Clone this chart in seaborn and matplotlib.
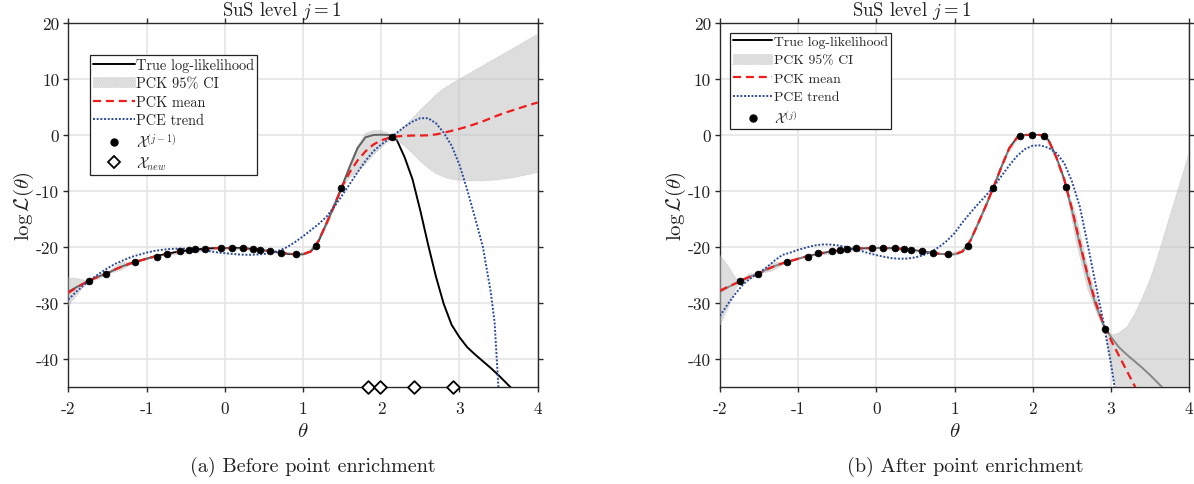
import numpy as np
import pandas as pd
import matplotlib
matplotlib.use("Agg")
import matplotlib.pyplot as plt
import seaborn as sns
from matplotlib.lines import Line2D
from matplotlib.patches import Patch

# ---------------- data ----------------
theta_grid = [-2.0, -1.9, -1.8, -1.7, -1.6, -1.5, -1.4, -1.3, -1.2, -1.1,
              -1.0, -0.9, -0.8, -0.7, -0.6, -0.5, -0.4, -0.3, -0.2, -0.1,
              0.0, 0.1, 0.2, 0.3, 0.4, 0.5, 0.6, 0.7, 0.8, 0.9,
              1.0, 1.1, 1.2, 1.3, 1.4, 1.5, 1.6, 1.7, 1.8, 1.9,
              2.0, 2.1, 2.2, 2.3, 2.4, 2.5, 2.6, 2.7, 2.8, 2.9,
              3.0, 3.1, 3.2, 3.3, 3.4, 3.5, 3.6, 3.7, 3.8, 3.9, 4.0]

true_loglik = [-28.0, -27.2, -26.5, -25.8, -25.2, -24.7, -24.0, -23.4, -22.9, -22.5,
               -22.1, -21.7, -21.4, -21.1, -20.85, -20.65, -20.5, -20.35, -20.25, -20.2,
               -20.2, -20.2, -20.2, -20.3, -20.45, -20.6, -20.8, -21.0, -21.2, -21.3,
               -21.3, -20.8, -18.9, -15.8, -12.6, -9.2, -5.6, -2.3, -0.4, 0.0,
               0.05, 0.0, -0.9, -4.0, -7.9, -13.5, -19.6, -25.3, -30.2, -33.9,
               -36.1, -37.9, -39.2, -40.4, -41.6, -42.9, -44.3, -45.7, -47.0, -48.3, -49.6]

pck_mean_a = [-28.2, -27.3, -26.5, -25.8, -25.2, -24.7, -24.0, -23.4, -22.9, -22.5,
              -22.1, -21.7, -21.4, -21.1, -20.85, -20.65, -20.5, -20.35, -20.25, -20.2,
              -20.2, -20.2, -20.2, -20.3, -20.45, -20.6, -20.8, -21.0, -21.2, -21.3,
              -21.3, -20.8, -18.9, -15.8, -12.6, -9.2, -6.6, -4.5, -2.9, -1.7,
              -0.95, -0.5, -0.25, -0.15, -0.1, -0.1, -0.05, 0.1, 0.4, 0.75,
              1.1, 1.5, 1.95, 2.45, 3.0, 3.55, 4.05, 4.5, 4.95, 5.4, 5.8]

pck_mean_b = [-27.8, -27.1, -26.5, -25.8, -25.2, -24.7, -24.0, -23.4, -22.9, -22.5,
              -22.1, -21.7, -21.4, -21.1, -20.85, -20.65, -20.5, -20.35, -20.25, -20.2,
              -20.2, -20.2, -20.2, -20.3, -20.45, -20.6, -20.8, -21.0, -21.2, -21.3,
              -21.3, -20.8, -18.9, -15.8, -12.6, -9.2, -5.6, -2.3, -0.4, 0.0,
              0.05, 0.0, -0.9, -4.0, -7.9, -13.2, -19.2, -25.0, -29.8, -33.7,
              -36.7, -39.4, -42.1, -44.8, -47.5, -50.2, -52.9, -55.6, -58.3, -61.0, -63.7]

pce_theta_a = [-2.0, -1.9, -1.8, -1.7, -1.6, -1.5, -1.4, -1.3, -1.2, -1.1,
               -1.0, -0.9, -0.8, -0.7, -0.6, -0.5, -0.4, -0.3, -0.2, -0.1,
               0.0, 0.1, 0.2, 0.3, 0.4, 0.5, 0.6, 0.7, 0.8, 0.9,
               1.0, 1.1, 1.2, 1.3, 1.4, 1.5, 1.6, 1.7, 1.8, 1.9,
               2.0, 2.1, 2.2, 2.3, 2.4, 2.5, 2.6, 2.7, 2.8, 2.9,
               3.0, 3.1, 3.2, 3.3, 3.4, 3.45, 3.5, 3.55]
pce_trend_a = [-29.4, -28.0, -26.8, -25.7, -24.7, -23.8, -23.0, -22.4, -21.8, -21.4,
               -21.0, -20.7, -20.5, -20.35, -20.3, -20.3, -20.4, -20.55, -20.75, -20.95,
               -21.1, -21.25, -21.35, -21.4, -21.35, -21.25, -21.0, -20.6, -20.0, -19.1,
               -18.1, -17.0, -15.9, -14.6, -12.8, -10.8, -8.7, -6.6, -4.6, -2.9,
               -1.7, -0.7, 0.4, 1.5, 2.4, 3.0, 3.0, 2.1, 0.4, -1.9,
               -5.3, -9.8, -14.8, -20.0, -28.0, -33.5, -45.5, -65.0]

pce_theta_b = [-2.0, -1.9, -1.8, -1.7, -1.6, -1.5, -1.4, -1.3, -1.2, -1.1,
               -1.0, -0.9, -0.8, -0.7, -0.6, -0.5, -0.4, -0.3, -0.2, -0.1,
               0.0, 0.1, 0.2, 0.3, 0.4, 0.5, 0.6, 0.7, 0.8, 0.9,
               1.0, 1.1, 1.2, 1.3, 1.4, 1.5, 1.6, 1.7, 1.8, 1.9,
               2.0, 2.1, 2.2, 2.3, 2.4, 2.5, 2.6, 2.7, 2.8, 2.9,
               3.0, 3.1]
pce_trend_b = [-32.3, -30.2, -28.3, -26.6, -25.5, -24.6, -23.6, -22.4, -21.4, -21.0,
               -20.5, -20.1, -19.75, -19.55, -19.55, -19.7, -19.95, -20.3, -20.7, -21.1,
               -21.45, -21.75, -22.0, -22.1, -22.05, -21.85, -21.45, -20.85, -20.0, -18.9,
               -17.5, -15.6, -13.9, -12.3, -10.8, -9.2, -7.3, -5.4, -3.7, -2.5,
               -1.9, -1.85, -2.3, -3.2, -5.0, -8.3, -12.8, -19.5, -26.5, -33.3,
               -41.0, -50.0]

ci_theta_a = [-2.0, -1.9, -1.8, -1.735, -1.62, -1.518, -1.33, -1.143, -1.0, -0.87,
              0.0, 0.5, 0.916, 1.05, 1.164, 1.33, 1.491, 1.6, 1.7, 1.8,
              1.9, 2.0, 2.1, 2.143, 2.2, 2.3, 2.4, 2.5, 2.6, 2.7,
              2.8, 2.9, 3.0, 3.1, 3.2, 3.3, 3.4, 3.5, 3.6, 3.7,
              3.8, 3.9, 4.0]
ci_lower_a = [-30.5, -28.8, -27.0, -26.1, -25.8, -24.85, -24.2, -22.8, -22.3, -21.75,
              -20.35, -20.75, -21.4, -21.4, -19.9, -15.6, -9.6, -7.6, -6.6, -5.2,
              -3.6, -2.3, -1.0, -0.35, -0.9, -2.0, -3.3, -4.7, -5.9, -6.9,
              -7.5, -7.9, -8.1, -8.2, -8.2, -8.2, -8.1, -8.0, -7.8, -7.6,
              -7.3, -7.0, -6.7]
ci_upper_a = [-25.5, -25.6, -25.9, -26.0, -24.9, -24.75, -22.8, -22.6, -21.9, -21.65,
              -20.05, -20.45, -21.2, -20.8, -19.7, -14.2, -9.4, -5.0, -2.0, 0.3,
              0.8, 0.8, 0.3, -0.25, 0.4, 1.6, 3.0, 4.5, 5.8, 7.2,
              8.3, 9.2, 10.0, 10.8, 11.6, 12.4, 13.2, 14.0, 14.8, 15.6,
              16.4, 17.2, 18.0]

ci_theta_b = [-2.0, -1.9, -1.8, -1.74, -1.63, -1.518, -1.33, -1.147, -1.0, -0.875,
              0.0, 0.916, 1.05, 1.167, 1.33, 1.491, 1.66, 1.832, 1.99, 2.147,
              2.29, 2.425, 2.55, 2.7, 2.85, 2.923, 2.97, 3.02, 3.06, 3.1,
              3.2, 3.3, 3.4, 3.5, 3.6, 3.7, 3.8, 3.9, 4.0]
ci_lower_b = [-34.0, -31.0, -27.5, -26.15, -25.9, -24.85, -24.3, -22.8, -22.3, -21.75,
              -20.3, -21.4, -21.4, -19.9, -15.3, -9.5, -3.8, -0.25, 0.0, -0.25,
              -4.2, -9.3, -18.8, -27.5, -33.0, -34.65, -38.5, -42.5, -45.0, -48.0,
              -55.0, -57.0, -58.0, -59.0, -60.0, -60.0, -60.0, -60.0, -60.0]
ci_upper_b = [-21.5, -23.3, -25.5, -26.05, -24.8, -24.75, -22.8, -22.6, -21.9, -21.65,
              -20.1, -21.2, -20.8, -19.7, -14.5, -9.3, -3.2, -0.15, 0.1, -0.15,
              -3.4, -9.1, -14.2, -23.5, -30.8, -34.55, -35.5, -35.6, -35.6, -35.3,
              -34.3, -32.0, -29.0, -25.7, -21.5, -16.8, -12.2, -7.7, -3.0]

points_theta_a = [-1.735, -1.518, -1.143, -0.870, -0.738, -0.568, -0.460, -0.376, -0.248, -0.047,
                  0.093, 0.238, 0.358, 0.447, 0.583, 0.724, 0.916, 1.164, 1.491, 2.143]
points_y_a = [-26.1, -24.8, -22.7, -21.7, -21.2, -20.8, -20.6, -20.4, -20.3, -20.2,
              -20.2, -20.2, -20.4, -20.5, -20.8, -21.1, -21.3, -19.8, -9.5, -0.3]

new_theta = [1.833, 1.986, 2.425, 2.919]
new_y = [-45, -45, -45, -45]

points_theta_b = [-1.74, -1.518, -1.147, -0.875, -0.743, -0.572, -0.465, -0.380, -0.257, -0.052,
                  0.088, 0.238, 0.357, 0.447, 0.583, 0.724, 0.916, 1.167, 1.491, 1.832,
                  1.990, 2.147, 2.425, 2.923]
points_y_b = [-26.1, -24.8, -22.7, -21.7, -21.1, -20.8, -20.5, -20.4, -20.2, -20.1,
              -20.1, -20.2, -20.4, -20.5, -20.8, -21.1, -21.3, -19.8, -9.4, -0.2,
              0.05, -0.2, -9.2, -34.6]

x_ticks = [-2, -1, 0, 1, 2, 3, 4]
x_tick_labels = ["-2", "-1", "0", "1", "2", "3", "4"]
y_ticks = [-40, -30, -20, -10, 0, 10, 20]
y_tick_labels = ["-40", "-30", "-20", "-10", "0", "10", "20"]

titles = [r"SuS level $j = 1$", r"SuS level $j = 1$"]
captions = ["(a) Before point enrichment", "(b) After point enrichment"]
legend_labels_a = ["True log-likelihood", "PCK 95% CI", "PCK mean", "PCE trend",
                   r"$\mathcal{X}^{(j-1)}$", r"$\mathcal{X}_{new}$"]
legend_labels_b = ["True log-likelihood", "PCK 95% CI", "PCK mean", "PCE trend",
                   r"$\mathcal{X}^{(j)}$"]

# ---------------- styling ----------------
sns.set_theme(style="whitegrid")
plt.rcParams.update({
    "font.family": "serif",
    "font.serif": ["cmr10", "DejaVu Serif"],
    "mathtext.fontset": "cm",
    "axes.unicode_minus": False,
    "axes.formatter.use_mathtext": True,
})

C_TRUE = "black"
C_FILL = "#bfbfbf"
FILL_ALPHA = 0.52
C_RED = "#ee1c1c"
C_BLUE = "#2b4a9a"
DASH = (0, (3.6, 2.2))
DOT = (0, (1.0, 0.9))
TXT = "#222222"

fig = plt.figure(figsize=(11.94, 4.85), dpi=100)
ax_a = fig.add_axes([0.0572, 0.2, 0.3931, 0.7505])
ax_b = fig.add_axes([0.603, 0.2, 0.3931, 0.7505])


def style_axes(ax, title, title_x):
    ax.set_xlim(-2, 4)
    ax.set_ylim(-45, 20)
    ax.set_xticks(x_ticks)
    ax.set_xticklabels(x_tick_labels)
    ax.set_yticks(y_ticks)
    ax.set_yticklabels(y_tick_labels)
    ax.grid(True, color="#e3e3e3", lw=1.1)
    ax.set_axisbelow(True)
    for s in ax.spines.values():
        s.set_visible(True)
        s.set_color("#2a2a2a")
        s.set_linewidth(1.0)
    ax.tick_params(direction="out", length=3.5, width=1.0, colors="#2a2a2a",
                   top=True, right=True, bottom=True, left=True,
                   labeltop=False, labelright=False, labelsize=12.5)
    ax.tick_params(axis="x", pad=6)
    ax.tick_params(axis="y", pad=3)
    for lab in ax.get_xticklabels() + ax.get_yticklabels():
        lab.set_color(TXT)
    ax.set_xlabel(r"$\theta$", fontsize=15, color=TXT, labelpad=5)
    ax.set_ylabel(r"$\log\mathcal{L}(\theta)$", fontsize=15, color=TXT, labelpad=0)
    ax.set_title(title, fontsize=13.5, x=title_x, pad=6, color=TXT)


def draw_panel(ax, mean, trend_theta, trend, ci_t, ci_lo, ci_hi, pts_t, pts_y, true_color):
    sns.lineplot(x=theta_grid, y=true_loglik, ax=ax, color=true_color, lw=1.4,
                 errorbar=None, zorder=2)
    ax.fill_between(ci_t, ci_lo, ci_hi, facecolor=C_FILL, alpha=FILL_ALPHA,
                    edgecolor="#9a9a9a", linestyle=":", linewidth=0.6, zorder=3)
    sns.lineplot(x=theta_grid, y=mean, ax=ax, color=C_RED, lw=1.6,
                 linestyle=DASH, errorbar=None, zorder=4)
    sns.lineplot(x=trend_theta, y=trend, ax=ax, color=C_BLUE, lw=1.4,
                 linestyle=DOT, errorbar=None, zorder=5)
    sns.scatterplot(x=pts_t, y=pts_y, ax=ax, color="black", s=24,
                    edgecolor="black", linewidth=0.5, zorder=6)


draw_panel(ax_a, pck_mean_a, pce_theta_a, pce_trend_a, ci_theta_a, ci_lower_a,
           ci_upper_a, points_theta_a, points_y_a, C_TRUE)
sns.scatterplot(x=new_theta, y=new_y, ax=ax_a, marker="D", s=42, facecolor="white",
                edgecolor="black", linewidth=1.3, zorder=7, clip_on=False)
draw_panel(ax_b, pck_mean_b, pce_theta_b, pce_trend_b, ci_theta_b, ci_lower_b,
           ci_upper_b, points_theta_b, points_y_b, "#4a4a4a")

style_axes(ax_a, titles[0], 0.455)
style_axes(ax_b, titles[1], 0.408)


def legend_handles(with_new):
    h = [Line2D([], [], color=C_TRUE, lw=1.4),
         Patch(facecolor=C_FILL, alpha=FILL_ALPHA, edgecolor="#9a9a9a", linestyle=":", linewidth=0.6),
         Line2D([], [], color=C_RED, lw=1.6, linestyle=DASH),
         Line2D([], [], color=C_BLUE, lw=1.4, linestyle=DOT),
         Line2D([], [], color="black", marker="o", markersize=5, linestyle="None")]
    if with_new:
        h.append(Line2D([], [], color="black", marker="D", markersize=6,
                        markerfacecolor="white", markeredgewidth=1.3, linestyle="None"))
    return h


for ax, labels, anchor, fs, ls in [(ax_a, legend_labels_a, (0.046, 0.912), 10.4, 0.32),
                                   (ax_b, legend_labels_b, (0.021, 0.973), 9.9, 0.42)]:
    leg = ax.legend(legend_handles(ax is ax_a), labels, loc="upper left",
                    bbox_to_anchor=anchor, fontsize=fs, frameon=True, fancybox=False,
                    framealpha=1, edgecolor=TXT, handlelength=2.9,
                    handletextpad=0.1, labelspacing=ls, borderpad=0.2, borderaxespad=0)
    leg.get_frame().set_linewidth(0.9)
    leg.set_zorder(10)

fig.text(0.2617, 0.037, captions[0], ha="center", va="center", fontsize=14.5, color=TXT)
fig.text(0.808, 0.037, captions[1], ha="center", va="center", fontsize=14.5, color=TXT)

fig.savefig("out.png", dpi=100)
